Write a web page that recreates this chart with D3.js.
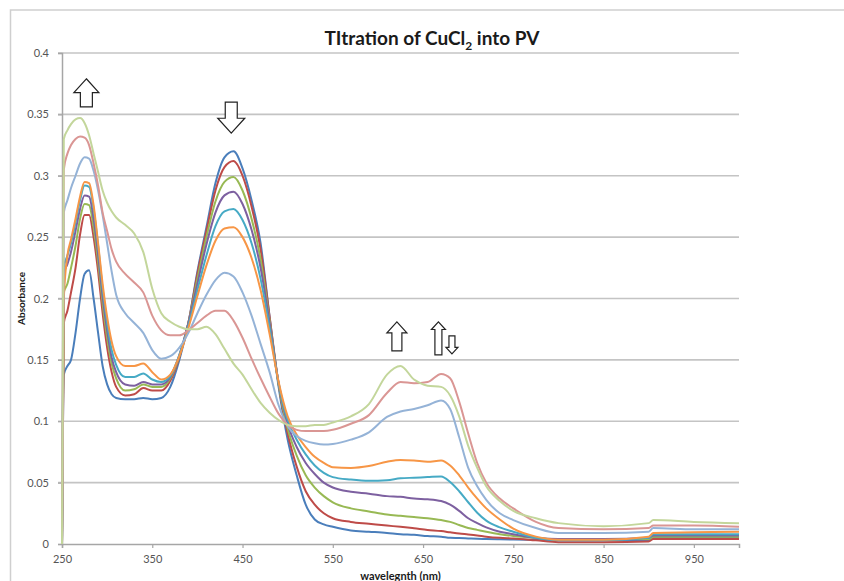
<!DOCTYPE html>
<html>
<head>
<meta charset="utf-8">
<script src="https://cdn.jsdelivr.net/npm/d3@7"></script>
<style>
  body { margin: 0; background: #fff; }
  svg { display: block; font-family: Lato, "Open Sans", sans-serif; }
</style>
</head>
<body>
<div id="chart"></div>
<script>

// wavelength grid (nm) shared by all the spectra
var wavelengths = [250, 252, 256, 260, 265, 270, 275, 280, 285, 290,
  295, 300, 305, 310, 320, 330, 340, 350, 360, 370,
  380, 390, 400, 410, 420, 430, 440, 450, 460, 470,
  480, 490, 500, 510, 520, 530, 540, 550, 570, 590,
  610, 625, 640, 655, 670, 680, 690, 700, 710, 720,
  735, 750, 775, 800, 850, 900, 905, 950, 1000];

var series1 = [0, 0.138, 0.145, 0.150, 0.172, 0.200, 0.220, 0.223, 0.200, 0.172,
  0.145, 0.130, 0.122, 0.119, 0.118, 0.118, 0.119, 0.118, 0.119, 0.128,
  0.150, 0.180, 0.222, 0.258, 0.294, 0.315, 0.320, 0.306, 0.280, 0.245,
  0.185, 0.128, 0.085, 0.056, 0.032, 0.020, 0.016, 0.014, 0.011, 0.010,
  0.009, 0.008, 0.0075, 0.0065, 0.006, 0.005, 0.0048, 0.0045, 0.0042, 0.004,
  0.0038, 0.0036, 0.0034, 0.003, 0.003, 0.003, 0.005, 0.005, 0.005];

var series2 = [0, 0.180, 0.190, 0.205, 0.225, 0.252, 0.268, 0.268, 0.250, 0.222,
  0.188, 0.160, 0.140, 0.128, 0.121, 0.122, 0.127, 0.125, 0.125, 0.133,
  0.152, 0.180, 0.220, 0.255, 0.288, 0.307, 0.312, 0.300, 0.275, 0.240,
  0.185, 0.130, 0.090, 0.063, 0.043, 0.032, 0.025, 0.021, 0.018, 0.0165,
  0.015, 0.014, 0.0128, 0.0115, 0.0105, 0.0095, 0.0085, 0.0078, 0.007, 0.006,
  0.005, 0.0045, 0.003, 0.0015, 0.0015, 0.002, 0.004, 0.004, 0.004];

var series3 = [0, 0.205, 0.212, 0.225, 0.243, 0.265, 0.277, 0.276, 0.258, 0.230,
  0.196, 0.168, 0.147, 0.135, 0.125, 0.126, 0.130, 0.128, 0.128, 0.135,
  0.153, 0.180, 0.216, 0.250, 0.279, 0.295, 0.299, 0.288, 0.265, 0.232,
  0.182, 0.130, 0.094, 0.072, 0.056, 0.046, 0.039, 0.034, 0.029, 0.0265,
  0.024, 0.023, 0.022, 0.021, 0.0195, 0.018, 0.0155, 0.013, 0.0115, 0.010,
  0.008, 0.0065, 0.005, 0.004, 0.004, 0.004, 0.006, 0.006, 0.006];

var series4 = [0, 0.220, 0.228, 0.238, 0.255, 0.273, 0.284, 0.283, 0.265, 0.236,
  0.202, 0.174, 0.152, 0.140, 0.130, 0.129, 0.132, 0.130, 0.130, 0.136,
  0.154, 0.180, 0.212, 0.244, 0.270, 0.284, 0.287, 0.277, 0.256, 0.225,
  0.180, 0.131, 0.098, 0.079, 0.066, 0.057, 0.050, 0.046, 0.0425, 0.041,
  0.039, 0.0385, 0.037, 0.0365, 0.035, 0.032, 0.027, 0.021, 0.017, 0.0135,
  0.010, 0.008, 0.005, 0.004, 0.004, 0.005, 0.007, 0.007, 0.007];

var series5 = [0, 0.225, 0.235, 0.245, 0.262, 0.280, 0.292, 0.291, 0.273, 0.243,
  0.208, 0.180, 0.158, 0.146, 0.136, 0.136, 0.139, 0.134, 0.132, 0.137,
  0.154, 0.178, 0.207, 0.235, 0.259, 0.271, 0.273, 0.264, 0.245, 0.216,
  0.176, 0.131, 0.101, 0.085, 0.073, 0.064, 0.058, 0.0545, 0.0525, 0.0515,
  0.052, 0.0535, 0.054, 0.0545, 0.055, 0.0505, 0.043, 0.034, 0.0255, 0.019,
  0.0135, 0.010, 0.005, 0.003, 0.003, 0.005, 0.008, 0.008, 0.008];

var series6 = [0, 0.200, 0.235, 0.248, 0.265, 0.283, 0.295, 0.294, 0.276, 0.245,
  0.212, 0.185, 0.165, 0.153, 0.145, 0.145, 0.147, 0.140, 0.134, 0.138,
  0.153, 0.176, 0.202, 0.227, 0.247, 0.257, 0.258, 0.250, 0.233, 0.207,
  0.171, 0.132, 0.104, 0.089, 0.079, 0.071, 0.066, 0.0625, 0.062, 0.0635,
  0.067, 0.0685, 0.068, 0.067, 0.068, 0.064, 0.056, 0.046, 0.037, 0.029,
  0.020, 0.0125, 0.006, 0.0035, 0.0035, 0.006, 0.009, 0.0095, 0.010];

var series7 = [0, 0.270, 0.280, 0.290, 0.300, 0.310, 0.315, 0.314, 0.304, 0.288,
  0.268, 0.245, 0.222, 0.203, 0.188, 0.180, 0.172, 0.158, 0.151, 0.153,
  0.160, 0.172, 0.188, 0.203, 0.215, 0.221, 0.218, 0.205, 0.186, 0.163,
  0.140, 0.113, 0.096, 0.088, 0.084, 0.082, 0.081, 0.0815, 0.085, 0.091,
  0.1035, 0.108, 0.110, 0.113, 0.117, 0.110, 0.087, 0.062, 0.047, 0.036,
  0.025, 0.0195, 0.013, 0.009, 0.009, 0.010, 0.013, 0.012, 0.012];

var series8 = [0, 0.305, 0.318, 0.325, 0.330, 0.332, 0.331, 0.325, 0.310, 0.292,
  0.270, 0.255, 0.240, 0.230, 0.220, 0.213, 0.205, 0.186, 0.174, 0.170,
  0.170, 0.174, 0.180, 0.186, 0.190, 0.190, 0.182, 0.168, 0.151, 0.135,
  0.120, 0.106, 0.097, 0.093, 0.092, 0.092, 0.092, 0.093, 0.098, 0.105,
  0.123, 0.132, 0.131, 0.132, 0.1385, 0.135, 0.116, 0.090, 0.066, 0.050,
  0.037, 0.029, 0.018, 0.013, 0.012, 0.013, 0.015, 0.015, 0.014];

var series9 = [0, 0.330, 0.337, 0.342, 0.346, 0.347, 0.343, 0.333, 0.318, 0.303,
  0.288, 0.278, 0.271, 0.266, 0.260, 0.253, 0.238, 0.208, 0.188, 0.181,
  0.177, 0.175, 0.175, 0.177, 0.171, 0.159, 0.147, 0.138, 0.126, 0.115,
  0.107, 0.101, 0.097, 0.096, 0.096, 0.097, 0.097, 0.099, 0.104, 0.114,
  0.138, 0.145, 0.134, 0.129, 0.128, 0.121, 0.104, 0.080, 0.062, 0.047,
  0.035, 0.027, 0.021, 0.017, 0.0145, 0.017, 0.0195, 0.018, 0.017];

var seriesColors = ['#4a7ebb', '#be4b48', '#98b954', '#7d60a0', '#46aac5',
  '#f79646', '#95b3d7', '#da9694', '#c3d69b'];

var xTicks = [250, 350, 450, 550, 650, 750, 850, 950];
var yTicks = [0, 0.05, 0.1, 0.15, 0.2, 0.25, 0.3, 0.35, 0.4];

// the hollow arrows drawn over the peaks: [wavelength, absorbance of the top edge, up or down, size]
var arrowNotes = [
  { wl: 277, top: 0.379, dir: 'up', w: 25, h: 28, shaft: 12 },
  { wl: 437.5, top: 0.360, dir: 'down', w: 27, h: 31, shaft: 12 },
  { wl: 621, top: 0.181, dir: 'up', w: 20, h: 29, shaft: 10 },
  { wl: 667, top: 0.181, dir: 'up', w: 14, h: 33, shaft: 7 },
  { wl: 682, top: 0.1695, dir: 'down', w: 12, h: 18, shaft: 6 }
];

var allSeries = [series1, series2, series3, series4, series5, series6, series7, series8, series9];

var width = 844,
  height = 581,
  margin = { top: 53, right: 105, bottom: 37, left: 62 };

var svg = d3.select('#chart')
  .append('svg')
  .attr('width', width)
  .attr('height', height);

// outer chart frame
svg.append('rect')
  .attr('x', 10.5)
  .attr('y', 10)
  .attr('width', 900)
  .attr('height', 700)
  .attr('fill', 'none')
  .attr('stroke', '#cfcfcf')
  .attr('stroke-width', 1.5);

var x = d3.scaleLinear()
  .domain([250, 1000])
  .range([margin.left, width - margin.right]);

var y = d3.scaleLinear()
  .domain([0, 0.4])
  .range([height - margin.bottom, margin.top]);

// gridlines
svg.append('g')
  .selectAll('line')
  .data(yTicks.slice(1))
  .enter().append('line')
    .attr('x1', x(250) - 4)
    .attr('x2', x(1000))
    .attr('y1', function(d) { return y(d); })
    .attr('y2', function(d) { return y(d); })
    .attr('stroke', '#c4c4c4')
    .attr('stroke-width', 1.6);

var yAxis = svg.append('g')
  .attr('transform', 'translate(' + x(250) + ',0)')
  .call(d3.axisLeft(y).tickValues(yTicks).tickSize(4).tickPadding(9)
    .tickFormat(function(d) { return String(+d.toFixed(2)); }));

var xAxis = svg.append('g')
  .attr('transform', 'translate(0,' + y(0) + ')')
  .call(d3.axisBottom(x).tickValues(xTicks).tickSize(4).tickPadding(7).tickFormat(d3.format('d')));

[yAxis, xAxis].forEach(function(axis) {
  axis.select('.domain').attr('stroke', '#a6a6a6').attr('stroke-width', 1.5);
  axis.selectAll('.tick line').attr('stroke', '#a6a6a6').attr('stroke-width', 1.2);
  axis.selectAll('.tick text')
    .attr('fill', '#555')
    .style('font-size', '11px')
    .style('font-family', 'Lato, sans-serif');
});

var line = d3.line()
  .x(function(d) { return x(d[0]); })
  .y(function(d) { return y(d[1]); })
  .curve(d3.curveMonotoneX);

svg.append('g')
  .selectAll('path')
  .data(allSeries)
  .enter().append('path')
    .attr('d', function(values) {
      return line(values.map(function(v, i) { return [wavelengths[i], v]; }));
    })
    .attr('fill', 'none')
    .attr('stroke', function(d, i) { return seriesColors[i]; })
    .attr('stroke-width', 2)
    .attr('stroke-linejoin', 'round');

// hollow block arrows
function arrowPath(a) {
  var cx = x(a.wl), top = y(a.top);
  var hw = a.w / 2, sw = a.shaft / 2, head = a.w * 0.55;
  var pts;
  if (a.dir === 'up') {
    pts = [[cx, top], [cx + hw, top + head], [cx + sw, top + head], [cx + sw, top + a.h],
      [cx - sw, top + a.h], [cx - sw, top + head], [cx - hw, top + head]];
  } else {
    var bottom = top + a.h;
    pts = [[cx, bottom], [cx + hw, bottom - head], [cx + sw, bottom - head], [cx + sw, top],
      [cx - sw, top], [cx - sw, bottom - head], [cx - hw, bottom - head]];
  }
  return 'M' + pts.join('L') + 'Z';
}

svg.append('g')
  .selectAll('path')
  .data(arrowNotes)
  .enter().append('path')
    .attr('d', arrowPath)
    .attr('fill', '#fff')
    .attr('stroke', '#222')
    .attr('stroke-width', 1.2);

// titles
var title = svg.append('text')
  .attr('x', 432)
  .attr('y', 45)
  .attr('text-anchor', 'middle')
  .style('font-size', '19px')
  .style('font-weight', 'bold')
  .attr('fill', '#1a1a1a');

title.append('tspan').text('TItration of CuCl');
title.append('tspan').attr('dy', 5).style('font-size', '12px').text('2');
title.append('tspan').attr('dy', -5).text(' into PV');

svg.append('text')
  .attr('transform', 'translate(25,' + y(0.2) + ') rotate(-90)')
  .attr('text-anchor', 'middle')
  .style('font-size', '10px')
  .style('font-weight', 'bold')
  .attr('fill', '#1a1a1a')
  .text('Absorbance');

svg.append('text')
  .attr('x', (x(250) + x(1000)) / 2)
  .attr('y', 580)
  .attr('text-anchor', 'middle')
  .style('font-size', '11px')
  .style('font-weight', 'bold')
  .attr('fill', '#1a1a1a')
  .text('wavelegnth (nm)');

</script>
</body>
</html>
